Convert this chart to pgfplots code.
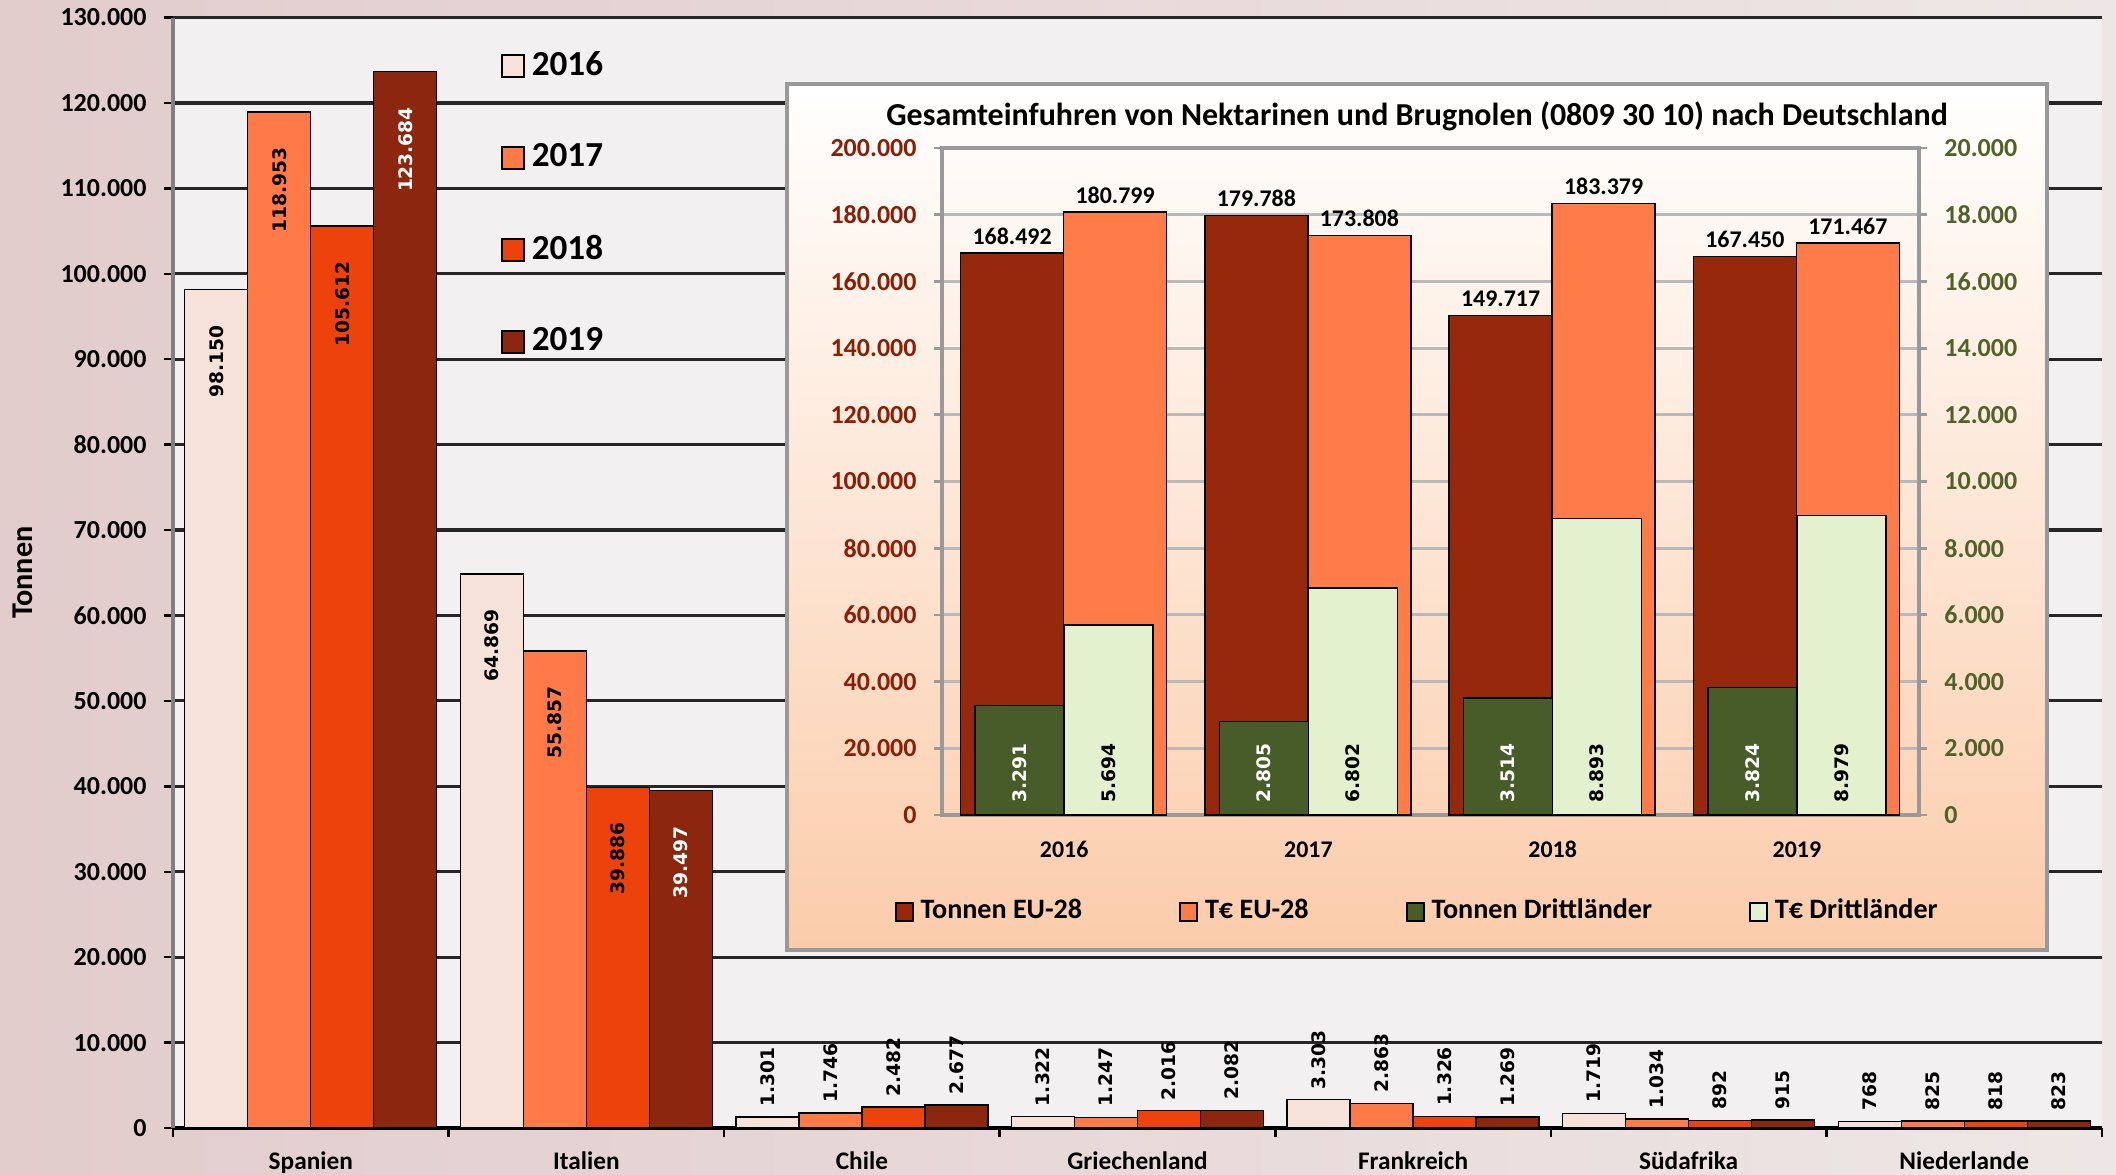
\documentclass[border=0pt]{standalone}
\usepackage{fontspec}
\setmainfont{Carlito}
\newfontfamily\dv{DejaVu Sans}
\usepackage{pgfplots}
\pgfplotsset{compat=1.18}

\definecolor{bgL}{RGB}{226,204,204}
\definecolor{bgR}{RGB}{238,230,230}
\definecolor{plotbg}{RGB}{242,240,240}
\definecolor{c16}{RGB}{247,226,217}
\definecolor{c17}{RGB}{255,122,70}
\definecolor{c18}{RGB}{238,66,12}
\definecolor{c19}{RGB}{140,38,14}
\definecolor{eu1}{RGB}{150,40,12}
\definecolor{eu2}{RGB}{255,124,72}
\definecolor{dr1}{RGB}{72,92,42}
\definecolor{dr2}{RGB}{228,241,206}
\definecolor{redtxt}{RGB}{140,30,5}
\definecolor{greentxt}{RGB}{80,98,40}
\definecolor{peach}{RGB}{251,204,170}

\tikzset{lab/.style={font=\dv\bfseries\fontsize{5.3}{6}\selectfont}}
\pgfplotsset{
  sq/.style={legend image code/.code={\draw[##1,draw=black,line width=0.6pt] (0cm,-0.11cm) rectangle (0.22cm,0.11cm);}},
  sqs/.style={legend image code/.code={\draw[##1,draw=black,line width=0.5pt] (0cm,-0.09cm) rectangle (0.17cm,0.09cm);}},
  inlab/.style={nodes near coords, every node near coord/.append style={lab, rotate=90, anchor=east, inner xsep=0.35cm}},
  uplab/.style={nodes near coords, every node near coord/.append style={lab, rotate=90, anchor=west, inner xsep=0.1cm}},
  numfmt/.style={scaled y ticks=false, /pgf/number format/.cd, fixed, precision=0, 1000 sep={.}, assume math mode=true},
}

\begin{document}
\begin{tikzpicture}
\useasboundingbox (0,0) rectangle (21.16,11.74);
\shade[left color=bgL, right color=bgR] (0,0) rectangle (21.16,11.74);

% main chart: Tonnen by country and year
\begin{axis}[
  at={(1.73cm,0.46cm)}, anchor=south west,
  scale only axis, width=19.29cm, height=11.105cm,
  xmin=-0.5, xmax=6.5, ymin=0, ymax=130000,
  xtick={-0.5,0.5,...,6.5}, x tick label as interval,
  xticklabels={Spanien,Italien,Chile,Griechenland,Frankreich,Südafrika,Niederlande},
  ytick={0,10000,...,130000},
  numfmt,
  axis x line*=bottom, axis y line*=left,
  x axis line style={black, line width=1pt},
  y axis line style={gray, line width=1pt},
  ymajorgrids, grid style={black!85, line width=0.9pt},
  tick align=outside, major tick length=0.09cm,
  tick style={black, line width=0.7pt},
  tick label style={font=\bfseries\fontsize{7.4}{9}\selectfont},
  xticklabel style={font=\bfseries\fontsize{7.2}{9}\selectfont, yshift=-0.02cm},
  yticklabel style={xshift=-0.05cm},
  ylabel={Tonnen},
  ylabel style={font=\bfseries\fontsize{8.6}{10}\selectfont, at={(rel axis cs:-0.078,0.5)}, anchor=center},
  axis background/.style={fill=plotbg},
  ybar, bar width=0.63cm,
  legend cell align=left,
  legend style={at={(0.1695,0.9766)}, anchor=north west, draw=none, fill=none, inner sep=0pt, row sep=0.49cm, font=\bfseries\fontsize{10}{12}\selectfont},
]
\addplot[forget plot, fill=c16, draw=black, bar shift=-0.945cm, inlab] coordinates {(0,98150) (1,64869)};
\addplot[forget plot, fill=c16, draw=black, bar shift=-0.945cm, uplab] coordinates {(2,1301) (3,1322) (4,3303) (5,1719) (6,768)};
\addplot[forget plot, fill=c17, draw=black, bar shift=-0.315cm, inlab] coordinates {(0,118953) (1,55857)};
\addplot[forget plot, fill=c17, draw=black, bar shift=-0.315cm, uplab] coordinates {(2,1746) (3,1247) (4,2863) (5,1034) (6,825)};
\addplot[forget plot, fill=c18, draw=black, bar shift=0.315cm, inlab] coordinates {(0,105612) (1,39886)};
\addplot[forget plot, fill=c18, draw=black, bar shift=0.315cm, uplab] coordinates {(2,2482) (3,2016) (4,1326) (5,892) (6,818)};
\addplot[forget plot, fill=c19, draw=black, bar shift=0.945cm, inlab, every node near coord/.append style={text=white}] coordinates {(0,123684) (1,39497)};
\addplot[forget plot, fill=c19, draw=black, bar shift=0.945cm, uplab] coordinates {(2,2677) (3,2082) (4,1269) (5,915) (6,823)};
\addlegendimage{sq, fill=c16}\addlegendentry{2016}
\addlegendimage{sq, fill=c17}\addlegendentry{2017}
\addlegendimage{sq, fill=c18}\addlegendentry{2018}
\addlegendimage{sq, fill=c19}\addlegendentry{2019}
\end{axis}

% inset
\shade[top color=white, bottom color=peach] (7.87,2.24) rectangle (20.47,10.90);
\draw[gray!80, line width=1pt] (7.87,2.24) rectangle (20.47,10.90);
\node[font=\bfseries\fontsize{9.1}{11}\selectfont] at (14.17,10.58) {Gesamteinfuhren von Nektarinen und Brugnolen (0809 30 10) nach Deutschland};

\begin{axis}[
  at={(9.42cm,3.59cm)}, anchor=south west,
  scale only axis, width=9.77cm, height=6.67cm,
  xmin=-0.5, xmax=3.5, ymin=0, ymax=200000,
  xtick={0,1,2,3}, xticklabels={2016,2017,2018,2019},
  ytick={0,20000,...,200000},
  numfmt,
  axis line style={gray!80, line width=0.9pt},
  ymajorgrids, grid style={gray!55, line width=0.9pt},
  tick align=outside, major tick length=0.08cm,
  xtick style={draw=none}, ytick style={gray!80, line width=0.8pt},
  ytick pos=left,
  tick label style={font=\bfseries\fontsize{7.4}{9}\selectfont},
  yticklabel style={text=redtxt, xshift=-0.05cm},
  xticklabel style={font=\bfseries\fontsize{6.8}{8}\selectfont, yshift=-0.06cm},
  ybar, bar width=1.03cm,
  legend columns=4,
  legend style={at={(0.489,-0.145)}, anchor=center, draw=none, fill=none, font=\bfseries\fontsize{8}{9}\selectfont, /tikz/every even column/.append style={column sep=0.9cm}},
]
\addplot[forget plot, fill=eu1, draw=black, bar shift=-0.52cm, nodes near coords, every node near coord/.append style={font=\bfseries\fontsize{6.8}{8}\selectfont, inner sep=0.08cm}] coordinates {(0,168492) (1,179788) (2,149717) (3,167450)};
\addplot[forget plot, fill=eu2, draw=black, bar shift=0.51cm, nodes near coords, every node near coord/.append style={font=\bfseries\fontsize{6.8}{8}\selectfont, inner sep=0.08cm}] coordinates {(0,180799) (1,173808) (2,183379) (3,171467)};
\addlegendimage{sqs, fill=eu1}\addlegendentry{Tonnen EU-28}
\addlegendimage{sqs, fill=eu2}\addlegendentry{T€ EU-28}
\addlegendimage{sqs, fill=dr1}\addlegendentry{Tonnen Drittländer}
\addlegendimage{sqs, fill=dr2}\addlegendentry{T€ Drittländer}
\end{axis}

\begin{axis}[
  at={(9.42cm,3.59cm)}, anchor=south west,
  scale only axis, width=9.77cm, height=6.67cm,
  xmin=-0.5, xmax=3.5, ymin=0, ymax=20000,
  axis x line=none, axis y line*=right,
  ytick={0,2000,...,20000},
  numfmt,
  y axis line style={gray!80, line width=0.9pt},
  tick align=outside, major tick length=0.08cm,
  ytick style={gray!80, line width=0.8pt},
  tick label style={font=\bfseries\fontsize{7.4}{9}\selectfont},
  yticklabel style={text=greentxt, xshift=0.05cm},
  ybar, bar width=0.89cm,
]
\addplot[fill=dr1, draw=black, bar shift=-0.445cm] coordinates {(0,3291) (1,2805) (2,3514) (3,3824)};
\addplot[fill=dr2, draw=black, bar shift=0.445cm] coordinates {(0,5694) (1,6802) (2,8893) (3,8979)};
\addplot[draw=none, fill=none, bar shift=-0.445cm, point meta=explicit, nodes near coords, every node near coord/.append style={lab, text=white, rotate=90, anchor=west, inner xsep=0.12cm}] coordinates {(0,0) [3291] (1,0) [2805] (2,0) [3514] (3,0) [3824]};
\addplot[draw=none, fill=none, bar shift=0.445cm, point meta=explicit, nodes near coords, every node near coord/.append style={lab, text=black, rotate=90, anchor=west, inner xsep=0.12cm}] coordinates {(0,0) [5694] (1,0) [6802] (2,0) [8893] (3,0) [8979]};
\end{axis}
\end{tikzpicture}
\end{document}
